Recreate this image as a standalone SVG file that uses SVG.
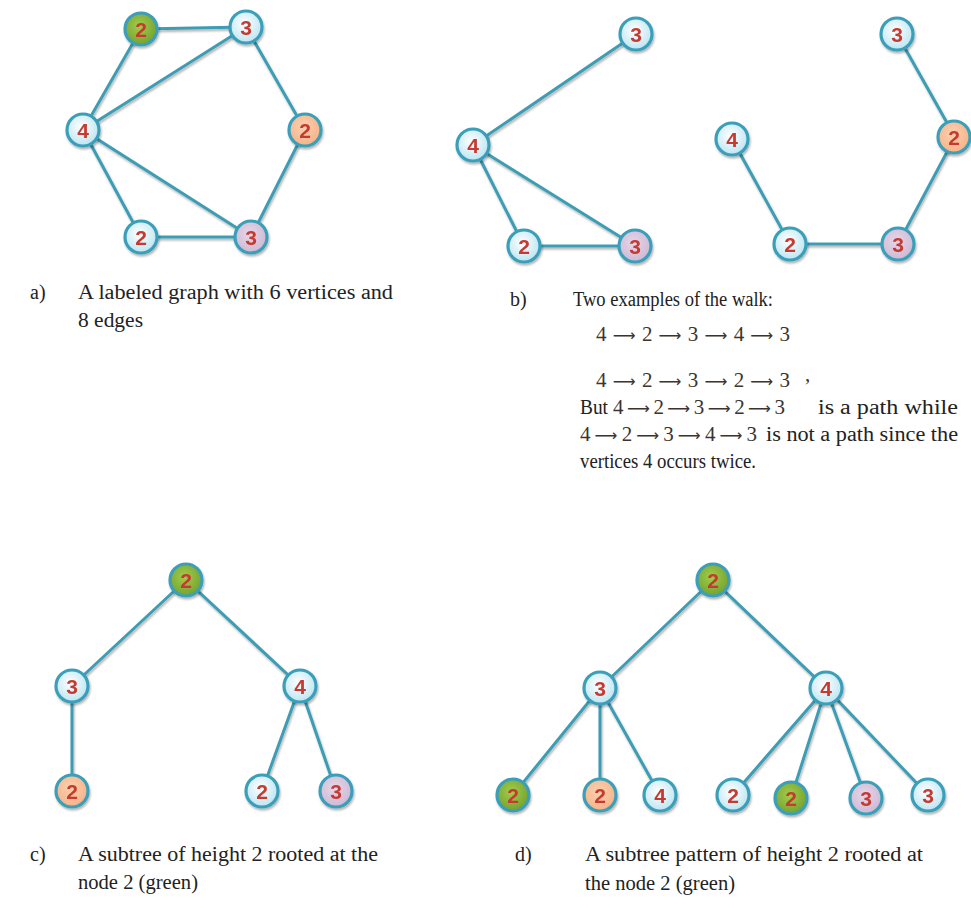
<svg xmlns="http://www.w3.org/2000/svg" width="971" height="921" viewBox="0 0 971 921">
<defs>
<radialGradient id="gL" cx="0.45" cy="0.4" r="0.65"><stop offset="0" stop-color="#ffffff"/><stop offset="1" stop-color="#b6e3f2"/></radialGradient>
<radialGradient id="gG" cx="0.45" cy="0.4" r="0.65"><stop offset="0" stop-color="#a3cc4a"/><stop offset="1" stop-color="#6f9f2e"/></radialGradient>
<radialGradient id="gO" cx="0.45" cy="0.4" r="0.65"><stop offset="0" stop-color="#fcd0b0"/><stop offset="1" stop-color="#f4b085"/></radialGradient>
<radialGradient id="gP" cx="0.45" cy="0.4" r="0.65"><stop offset="0" stop-color="#e6d6e8"/><stop offset="1" stop-color="#cdb6d2"/></radialGradient>
<filter id="sh" x="-30%" y="-30%" width="160%" height="160%"><feDropShadow dx="1" dy="2" stdDeviation="1" flood-color="#000" flood-opacity="0.3"/></filter>
<style>
.e{filter:url(#sh)}
.e line{stroke:#3c9db5;stroke-width:3;stroke-linecap:round}
.n{filter:url(#sh)}
.n circle{stroke:#3a9fba;stroke-width:3.2}
.L circle{fill:url(#gL)}
.G circle{fill:url(#gG)}
.O circle{fill:url(#gO)}
.P circle{fill:url(#gP)}
.n text{font-family:"Liberation Sans",Arial,sans-serif;font-size:21px;font-weight:bold;fill:#c53a30;text-anchor:middle}
.t{font-family:"Liberation Serif","Times New Roman",serif;font-size:20px;fill:#222}
.m{font-family:"Liberation Serif","Times New Roman",serif;font-size:21px;fill:#3a3530}
.ar{font-family:"DejaVu Sans",sans-serif;font-size:16px}
</style>
</defs>
<rect width="971" height="921" fill="#fff"/>
<g id="connectors" class="e">
<line x1="141" y1="29" x2="246" y2="27"/>
<line x1="141" y1="29" x2="83" y2="130"/>
<line x1="246" y1="27" x2="83" y2="130"/>
<line x1="246" y1="27" x2="305" y2="130"/>
<line x1="305" y1="130" x2="251" y2="237"/>
<line x1="83" y1="130" x2="251" y2="237"/>
<line x1="83" y1="130" x2="141" y2="237"/>
<line x1="141" y1="237" x2="251" y2="237"/>
<line x1="473" y1="145" x2="636" y2="34"/>
<line x1="473" y1="145" x2="524" y2="246"/>
<line x1="473" y1="145" x2="635" y2="246"/>
<line x1="524" y1="246" x2="635" y2="246"/>
<line x1="897" y1="34" x2="955" y2="137"/>
<line x1="955" y1="137" x2="898" y2="244"/>
<line x1="790" y1="244" x2="898" y2="244"/>
<line x1="732" y1="139" x2="790" y2="244"/>
<line x1="186" y1="580" x2="72" y2="686"/>
<line x1="186" y1="580" x2="300" y2="686"/>
<line x1="72" y1="686" x2="72" y2="791"/>
<line x1="300" y1="686" x2="262" y2="791"/>
<line x1="300" y1="686" x2="336" y2="791"/>
<line x1="713" y1="580" x2="600" y2="688"/>
<line x1="713" y1="580" x2="826" y2="688"/>
<line x1="600" y1="688" x2="513" y2="795"/>
<line x1="600" y1="688" x2="600" y2="795"/>
<line x1="600" y1="688" x2="660" y2="795"/>
<line x1="826" y1="688" x2="733" y2="795"/>
<line x1="826" y1="688" x2="791" y2="798"/>
<line x1="826" y1="688" x2="866" y2="798"/>
<line x1="826" y1="688" x2="928" y2="795"/>
</g>
<g id="a2g" class="n G"><circle cx="141" cy="29" r="16"/><text x="141" y="37">2</text></g>
<g id="a3" class="n L"><circle cx="246" cy="27" r="16"/><text x="246" y="35">3</text></g>
<g id="a4" class="n L"><circle cx="83" cy="130" r="16"/><text x="83" y="138">4</text></g>
<g id="a2o" class="n O"><circle cx="305" cy="130" r="16"/><text x="305" y="138">2</text></g>
<g id="a2l" class="n L"><circle cx="141" cy="237" r="16"/><text x="141" y="245">2</text></g>
<g id="a3p" class="n P"><circle cx="251" cy="237" r="16"/><text x="251" y="245">3</text></g>
<g id="bl3" class="n L"><circle cx="636" cy="34" r="16"/><text x="636" y="42">3</text></g>
<g id="bl4" class="n L"><circle cx="473" cy="145" r="16"/><text x="473" y="153">4</text></g>
<g id="bl2" class="n L"><circle cx="524" cy="246" r="16"/><text x="524" y="254">2</text></g>
<g id="bl3p" class="n P"><circle cx="635" cy="246" r="16"/><text x="635" y="254">3</text></g>
<g id="br3" class="n L"><circle cx="897" cy="34" r="16"/><text x="897" y="42">3</text></g>
<g id="br4" class="n L"><circle cx="732" cy="139" r="16"/><text x="732" y="147">4</text></g>
<g id="br2o" class="n O"><circle cx="954" cy="137" r="16"/><text x="954" y="145">2</text></g>
<g id="br2" class="n L"><circle cx="790" cy="244" r="16"/><text x="790" y="252">2</text></g>
<g id="br3p" class="n P"><circle cx="898" cy="244" r="16"/><text x="898" y="252">3</text></g>
<g id="c2g" class="n G"><circle cx="186" cy="580" r="16"/><text x="186" y="588">2</text></g>
<g id="c3" class="n L"><circle cx="72" cy="686" r="16"/><text x="72" y="694">3</text></g>
<g id="c4" class="n L"><circle cx="300" cy="686" r="16"/><text x="300" y="694">4</text></g>
<g id="c2o" class="n O"><circle cx="72" cy="791" r="16"/><text x="72" y="799">2</text></g>
<g id="c2l" class="n L"><circle cx="262" cy="791" r="16"/><text x="262" y="799">2</text></g>
<g id="c3p" class="n P"><circle cx="336" cy="791" r="16"/><text x="336" y="799">3</text></g>
<g id="d2g" class="n G"><circle cx="713" cy="580" r="16"/><text x="713" y="588">2</text></g>
<g id="d3" class="n L"><circle cx="600" cy="688" r="16"/><text x="600" y="696">3</text></g>
<g id="d4" class="n L"><circle cx="826" cy="688" r="16"/><text x="826" y="696">4</text></g>
<g id="d2g1" class="n G"><circle cx="513" cy="795" r="16"/><text x="513" y="803">2</text></g>
<g id="d2o" class="n O"><circle cx="600" cy="795" r="16"/><text x="600" y="803">2</text></g>
<g id="d4l" class="n L"><circle cx="660" cy="795" r="16"/><text x="660" y="803">4</text></g>
<g id="d2l" class="n L"><circle cx="733" cy="795" r="16"/><text x="733" y="803">2</text></g>
<g id="d2g2" class="n G"><circle cx="791" cy="798" r="16"/><text x="791" y="806">2</text></g>
<g id="d3p" class="n P"><circle cx="866" cy="798" r="16"/><text x="866" y="806">3</text></g>
<g id="d3l" class="n L"><circle cx="928" cy="795" r="16"/><text x="928" y="803">3</text></g>
<g id="captions">
<text class="t" x="30" y="299">a)</text>
<text class="t" x="78" y="299" textLength="315" lengthAdjust="spacingAndGlyphs">A labeled graph with 6 vertices and</text>
<text class="t" x="78" y="327" textLength="65" lengthAdjust="spacingAndGlyphs">8 edges</text>
<text class="t" x="510" y="306">b)</text>
<text class="t" x="573" y="306" textLength="200" lengthAdjust="spacingAndGlyphs">Two examples of the walk:</text>
<text class="m" x="596" y="341" textLength="194" lengthAdjust="spacing">4 <tspan class="ar">⟶</tspan> 2 <tspan class="ar">⟶</tspan> 3 <tspan class="ar">⟶</tspan> 4 <tspan class="ar">⟶</tspan> 3</text>
<text class="m" x="596" y="387" textLength="194" lengthAdjust="spacing">4 <tspan class="ar">⟶</tspan> 2 <tspan class="ar">⟶</tspan> 3 <tspan class="ar">⟶</tspan> 2 <tspan class="ar">⟶</tspan> 3</text>
<text class="m" x="805" y="381" font-size="13">,</text>
<text class="t" x="580" y="414" textLength="28" lengthAdjust="spacingAndGlyphs">But</text>
<text class="m" x="613" y="414" textLength="172" lengthAdjust="spacing">4 <tspan class="ar">⟶</tspan> 2 <tspan class="ar">⟶</tspan> 3 <tspan class="ar">⟶</tspan> 2 <tspan class="ar">⟶</tspan> 3</text>
<text class="t" x="818" y="414" textLength="140" lengthAdjust="spacingAndGlyphs">is a path while</text>
<text class="m" x="580" y="441" textLength="177" lengthAdjust="spacing">4 <tspan class="ar">⟶</tspan> 2 <tspan class="ar">⟶</tspan> 3 <tspan class="ar">⟶</tspan> 4 <tspan class="ar">⟶</tspan> 3</text>
<text class="t" x="766" y="441" textLength="192" lengthAdjust="spacingAndGlyphs">is not a path since the</text>
<text class="t" x="580" y="468" textLength="176" lengthAdjust="spacingAndGlyphs">vertices 4 occurs twice.</text>
<text class="t" x="30" y="861">c)</text>
<text class="t" x="78" y="861" textLength="300" lengthAdjust="spacingAndGlyphs">A subtree of height 2 rooted at the</text>
<text class="t" x="78" y="889" textLength="120" lengthAdjust="spacingAndGlyphs">node 2 (green)</text>
<text class="t" x="515" y="861">d)</text>
<text class="t" x="585" y="861" textLength="338" lengthAdjust="spacingAndGlyphs">A subtree pattern of height 2 rooted at</text>
<text class="t" x="585" y="890" textLength="150" lengthAdjust="spacingAndGlyphs">the node 2 (green)</text>
</g>
</svg>
